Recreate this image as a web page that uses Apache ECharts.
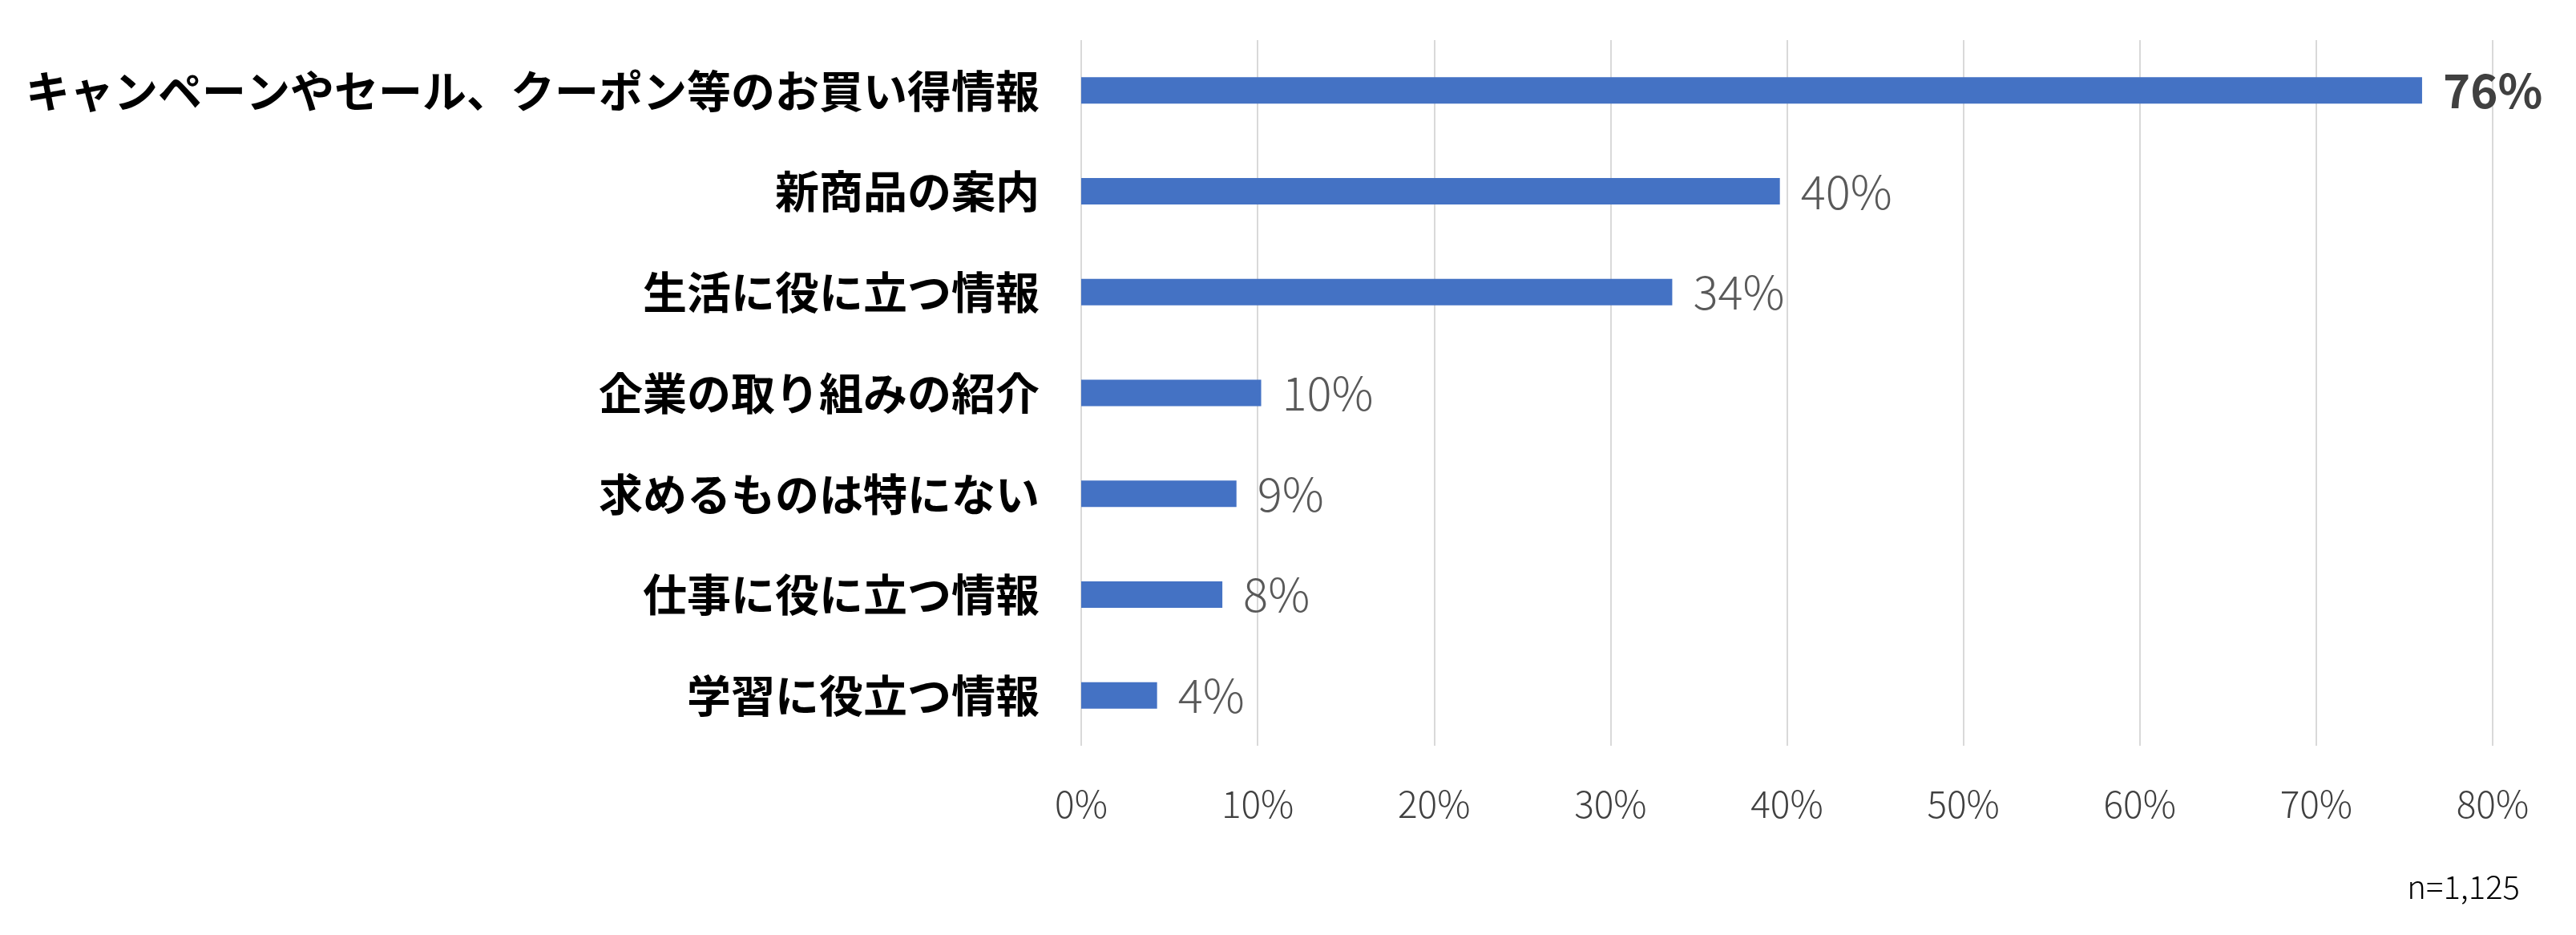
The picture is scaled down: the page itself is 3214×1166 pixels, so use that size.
<!DOCTYPE html>
<html><head><meta charset="utf-8">
<script src="https://cdn.jsdelivr.net/npm/echarts@6/dist/echarts.min.js"></script>
<style>html,body{margin:0;padding:0;background:#fff}#c{width:3214px;height:1166px}</style>
</head><body><div id="c"></div>
<script>
const categories = ['キャンペーンやセール、クーポン等のお買い得情報','新商品の案内','生活に役に立つ情報','企業の取り組みの紹介','求めるものは特にない','仕事に役に立つ情報','学習に役立つ情報'];
const values = [76, 39.6, 33.5, 10.2, 8.8, 8.0, 4.3];
const labels = ['76%','40%','34%','10%','9%','8%','4%'];
const xTicks = [0,10,20,30,40,50,60,70,80];
const font = '"Noto Sans CJK JP", "Noto Sans", sans-serif';
const chart = echarts.init(document.getElementById('c'));
chart.setOption({
  animation:false,
  grid:{left:1349,right:104,top:50,height:880,containLabel:false},
  xAxis:{type:'value',min:0,max:80,interval:10,
    axisLine:{show:false},axisTick:{show:false},
    splitLine:{lineStyle:{color:'#d9d9d9',width:2}},
    axisLabel:{formatter:v=>v+'%',fontSize:46,fontWeight:300,color:'#404040',fontFamily:font,margin:50}},
  yAxis:{type:'category',inverse:true,data:categories,
    axisLine:{show:false},axisTick:{show:false},
    axisLabel:{fontSize:55,fontWeight:'bold',color:'#000',fontFamily:font,margin:52}},
  series:[{type:'bar',data:values.map((v,i)=>({value:v,label:i===0?{fontWeight:'bold',color:'#404040'}:{}})),
    barWidth:33,itemStyle:{color:'#4472c4'},
    label:{show:true,position:'right',distance:26,formatter:p=>labels[p.dataIndex],fontSize:58,fontWeight:300,color:'#595959',fontFamily:font}}],
  graphic:[{type:'text',right:70,top:1086,style:{text:'n=1,125',font:'300 40px '+font,fill:'#000'}}]
});
</script></body></html>
